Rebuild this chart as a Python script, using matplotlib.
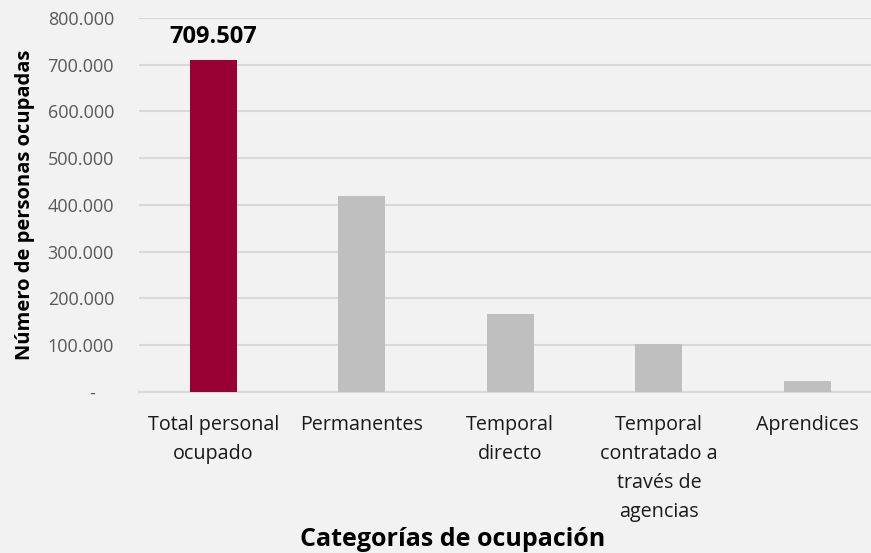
import matplotlib.pyplot as plt
from matplotlib.ticker import FuncFormatter

categories = ['Total personal\nocupado', 'Permanentes', 'Temporal\ndirecto',
              'Temporal\ncontratado a\ntravés de\nagencias', 'Aprendices']
values = [709507, 419000, 166000, 101500, 23000]
colors = ['#990033', '#bfbfbf', '#bfbfbf', '#bfbfbf', '#bfbfbf']
y_ticks = [0, 100000, 200000, 300000, 400000, 500000, 600000, 700000, 800000]

plt.rcParams['font.family'] = ['Open Sans', 'DejaVu Sans']

fig = plt.figure(figsize=(8.71, 5.53), dpi=100, facecolor='#f2f2f2')
ax = fig.add_axes([139 / 871, 1 - 391.7 / 553, 1 - 139 / 871, (391.7 - 18) / 553])
ax.set_facecolor('#f2f2f2')

x = range(len(categories))
ax.bar(x, values, width=0.316, color=colors, zorder=3)

ax.set_xlim(-0.5, 4.428)
ax.set_ylim(0, 800000)
ax.set_yticks(y_ticks)
ax.yaxis.set_major_formatter(FuncFormatter(
    lambda v, p: '-    ' if v == 0 else f'{int(v):,}'.replace(',', '.')))
ax.set_xticks(list(x))
ax.set_xticklabels(categories, fontsize=14.2, color='#1a1a1a', linespacing=1.6)

ax.grid(axis='y', color='#d9d9d9', linewidth=1.5, zorder=0)
for s in ['top', 'right', 'left']:
    ax.spines[s].set_visible(False)
ax.spines['bottom'].set_color('#d9d9d9')
ax.spines['bottom'].set_linewidth(1.5)
ax.tick_params(axis='both', length=0)
ax.tick_params(axis='y', labelsize=13, labelcolor='#595959', pad=18)
ax.tick_params(axis='x', pad=17)

ax.text(0, values[0] + 25000, f'{values[0]:,}'.replace(',', '.'),
        ha='center', va='bottom', fontsize=17, fontweight='bold', color='black')

fig.text(25 / 871, 1 - 205 / 553, 'Número de personas ocupadas', rotation=90,
         ha='center', va='center', fontsize=14.5, fontweight='bold')
fig.text(453 / 871, 1 - 539 / 553, 'Categorías de ocupación', ha='center', va='center',
         fontsize=18, fontweight='bold')

fig.savefig('out.png', dpi=100, facecolor='#f2f2f2')
